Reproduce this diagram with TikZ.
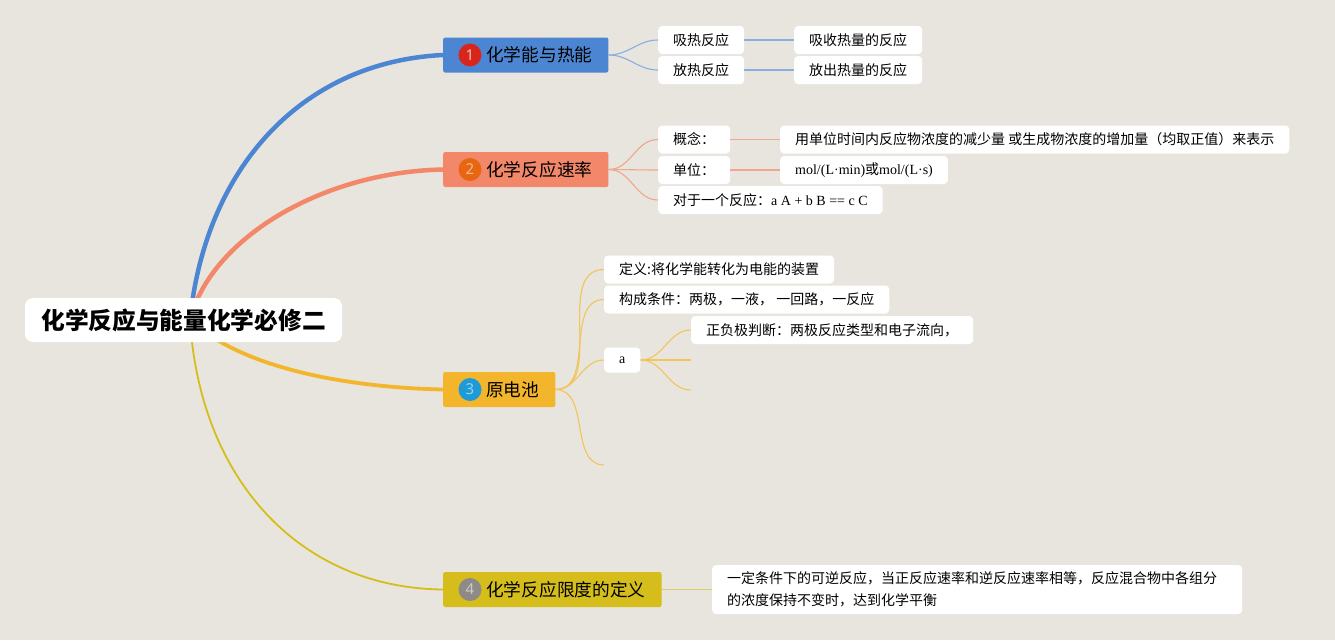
\documentclass[tikz,border=0pt]{standalone}
\usepackage{fontspec}
\newfontfamily\cjk{Noto Sans CJK SC}
\newfontfamily\lat{Liberation Serif}
\newfontfamily\numf{Noto Sans}
\definecolor{bgc}{HTML}{E8E5DE}
\definecolor{cblue}{HTML}{4C86D2}
\definecolor{corange}{HTML}{F2876A}
\definecolor{cyellow}{HTML}{F2B52B}
\definecolor{colive}{HTML}{D5BE1C}
\definecolor{lblue}{HTML}{8AAEDD}
\definecolor{lorange}{HTML}{F0A58C}
\definecolor{lyellow}{HTML}{F3C45A}
\definecolor{lolive}{HTML}{DDCB63}
\definecolor{n1c}{HTML}{D9261C}
\definecolor{n2c}{HTML}{E8660F}
\definecolor{n3c}{HTML}{1E9BD7}
\definecolor{n4c}{HTML}{8E8B86}
\begin{document}
\begin{tikzpicture}[x=1pt,y=-1pt,
  topic/.style={anchor=west, rounded corners=2pt, minimum height=35, inner xsep=16, inner ysep=0,
    font=\cjk\fontsize{17.7}{20}\selectfont, text=black},
  numc/.style={circle, minimum size=23, inner sep=0, font=\numf\fontsize{15}{15}\selectfont},
  leaf/.style={anchor=west, fill=white, rounded corners=4pt, minimum height=28, inner xsep=15, inner ysep=0,
    font=\cjk\fontsize{14}{16}\selectfont, text=black},
  rootbox/.style={fill=white, rounded corners=8pt, minimum width=317, minimum height=44, inner sep=0,
    font=\cjk\bfseries\fontsize{23.7}{26}\selectfont, text=black},
  mblue/.style={draw=cblue, line width=4.5},
  morange/.style={draw=corange, line width=4.5},
  myellow/.style={draw=cyellow, line width=3.8},
  molive/.style={draw=colive, line width=1.8},
  sblue/.style={draw=lblue, line width=1.1},
  sorange/.style={draw=lorange, line width=1.1},
  syellow/.style={draw=lyellow, line width=1.1},
  solive/.style={draw=lolive, line width=1.1},
  subc/.style={out=0, in=180}
]
\fill[bgc] (0,0) rectangle (1335,640);
\useasboundingbox (0,0) rectangle (1335,640);

% topics
\node[topic, fill=cblue] (t1) at (443,55) {\hspace{27pt}化学能与热能};
\node[topic, fill=corange] (t2) at (443,169.5) {\hspace{27pt}化学反应速率};
\node[topic, fill=cyellow] (t3) at (443,389.5) {\hspace{27pt}原电池};
\node[topic, fill=colive] (t4) at (443,589.5) {\hspace{27pt}化学反应限度的定义};
\node[numc, fill=n1c, text=white!70!n1c] (n1) at ([xshift=27]t1.west) {1};
\node[numc, fill=n2c, text=white!55!n2c] (n2) at ([xshift=27]t2.west) {2};
\node[numc, fill=n3c, text=white!55!n3c] (n3) at ([xshift=27]t3.west) {3};
\node[numc, fill=n4c, text=white!55!n4c] (n4) at ([xshift=27]t4.west) {4};

% topic 1 leaves
\node[leaf] (l1a) at (658,40) {吸热反应};
\node[leaf] (l1b) at (658,70) {放热反应};
\node[leaf] (l1a2) at (794,40) {吸收热量的反应};
\node[leaf] (l1b2) at (794,70) {放出热量的反应};

% topic 2 leaves
\node[leaf] (l2a) at (658,139.5) {概念：};
\node[leaf] (l2b) at (658,170) {单位：};
\node[leaf] (l2c) at (658,200) {对于一个反应：{\lat a A + b B == c C}};
\node[leaf] (l2a2) at (780,139.5) {用单位时间内反应物浓度的减少量 或生成物浓度的增加量（均取正值）来表示};
\node[leaf] (l2b2) at (780,170) {{\lat mol/(L·min)}或{\lat mol/(L·s)}};

% topic 3 leaves
\node[leaf] (l3a) at (604,269.5) {定义:将化学能转化为电能的装置};
\node[leaf] (l3b) at (604,299.5) {构成条件：两极，一液， 一回路，一反应};
\node[leaf, minimum height=25, font=\lat\fontsize{14}{16}\selectfont] (l3c) at (604,360) {a};
\node[leaf] (l3c1) at (691,330) {正负极判断：两极反应类型和电子流向，};
\coordinate (e3) at (604,465);
\coordinate (e3a) at (691,360);
\coordinate (e3b) at (691,390);

% topic 4 leaf
\node[leaf, minimum height=49, text width=500, align=left, font=\cjk\fontsize{14}{22}\selectfont] (l4) at (712,589.5)
  {一定条件下的可逆反应，当正反应速率和逆反应速率相等，反应混合物中各组分\\的浓度保持不变时，达到化学平衡};

% sub connectors
\draw[sblue] (t1.east) to[subc] (l1a.west);
\draw[sblue] (t1.east) to[subc] (l1b.west);
\draw[sblue] (l1a.east) -- (l1a2.west);
\draw[sblue] (l1b.east) -- (l1b2.west);
\draw[sorange] (t2.east) to[subc] (l2a.west);
\draw[sorange] (t2.east) to[subc] (l2b.west);
\draw[sorange] (t2.east) to[subc] (l2c.west);
\draw[sorange] (l2a.east) -- (l2a2.west);
\draw[sorange] (l2b.east) -- (l2b2.west);
\draw[syellow] (t3.east) to[subc] (l3a.west);
\draw[syellow] (t3.east) to[subc] (l3b.west);
\draw[syellow] (t3.east) to[subc] (l3c.west);
\draw[syellow] (t3.east) to[subc] (e3);
\draw[syellow] (l3c.east) to[subc] (l3c1.west);
\draw[syellow] (l3c.east) to[subc] (e3a);
\draw[syellow] (l3c.east) to[subc] (e3b);
\draw[solive] (t4.east) -- (l4.west);

% main connectors
\coordinate (rc) at (190,320);
\draw[mblue] (rc) .. controls (205,170) and (300,62) .. (t1.west);
\draw[morange] (rc) .. controls (210,240) and (320,172) .. (t2.west);
\draw[myellow] (rc) .. controls (250,375) and (370,388) .. (t3.west);
\draw[molive] (rc) .. controls (200,480) and (300,588) .. (t4.west);

% root
\node[rootbox] (root) at (183.5,320) {化学反应与能量化学必修二};
\end{tikzpicture}
\end{document}
